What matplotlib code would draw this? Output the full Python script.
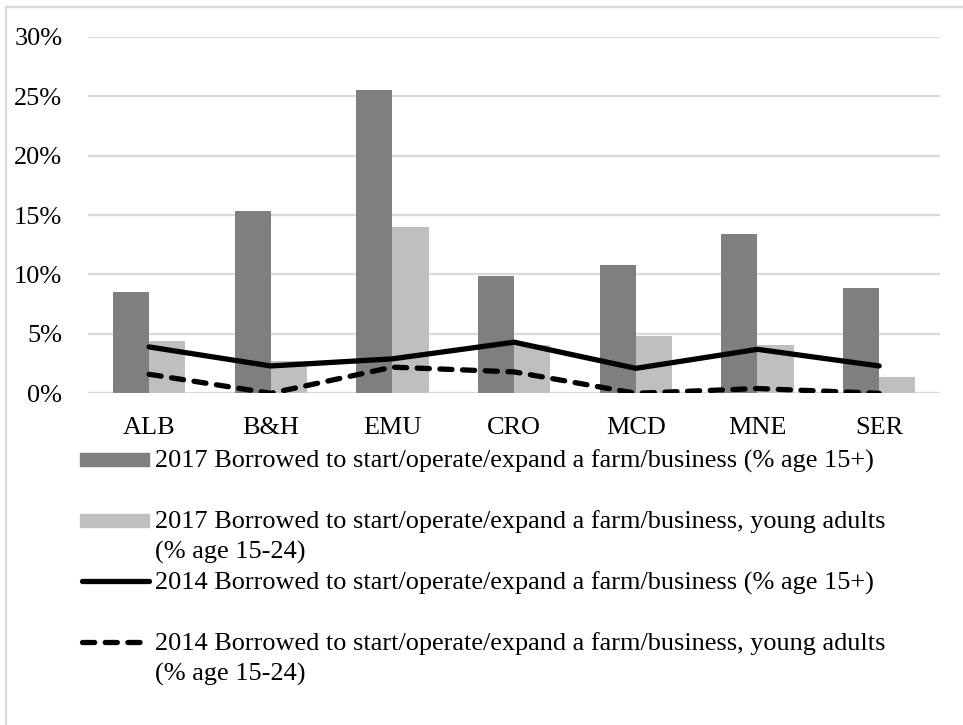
import matplotlib
matplotlib.use("Agg")
import matplotlib.pyplot as plt
import numpy as np
from matplotlib.lines import Line2D
from matplotlib.patches import Rectangle
from matplotlib.ticker import FuncFormatter

plt.rcParams["font.family"] = ["Liberation Serif", "DejaVu Serif"]

countries = ["ALB", "B&H", "EMU", "CRO", "MCD", "MNE", "SER"]
borrowed_2017_all = [8.5, 15.3, 25.5, 9.9, 10.8, 13.4, 8.9]
borrowed_2017_young = [4.4, 2.7, 14.0, 4.1, 4.8, 4.1, 1.35]
borrowed_2014_all = [3.9, 2.3, 2.9, 4.3, 2.1, 3.7, 2.3]
borrowed_2014_young = [1.6, 0.0, 2.2, 1.8, 0.0, 0.4, 0.0]
yticks = [0, 5, 10, 15, 20, 25, 30]

legend_labels = [
    ["2017 Borrowed to start/operate/expand a farm/business (% age 15+)"],
    ["2017 Borrowed to start/operate/expand a farm/business, young adults",
     "(% age 15-24)"],
    ["2014 Borrowed to start/operate/expand a farm/business (% age 15+)"],
    ["2014 Borrowed to start/operate/expand a farm/business, young adults",
     "(% age 15-24)"],
]

W, H = 963, 725
fig = plt.figure(figsize=(W / 100, H / 100), dpi=100)


def fx(px):
    return px / W


def fy(py):
    return 1 - py / H


ax = fig.add_axes([fx(88.3), fy(393.3), fx(940) - fx(88.3), fy(36.7) - fy(393.3)])

dark = "#7f7f7f"
light = "#bfbfbf"
grid = "#d9d9d9"
fs = 18.9

x = np.arange(len(countries))
bw = 0.297
ax.bar(x - bw / 2, borrowed_2017_all, width=bw, color=dark, zorder=2)
ax.bar(x + bw / 2, borrowed_2017_young, width=bw, color=light, zorder=2)
ax.plot(x, borrowed_2014_all, color="black", lw=3.8, solid_capstyle="round",
        solid_joinstyle="round", zorder=3)
ax.plot(x, borrowed_2014_young, color="black", lw=3.8, dashes=(2.3, 2.0),
        dash_capstyle="round", dash_joinstyle="round", zorder=3)

ax.set_xlim(-0.5, len(countries) - 0.5)
ax.set_ylim(0, 30)
ax.set_yticks(yticks)
ax.yaxis.set_major_formatter(FuncFormatter(lambda v, p: f"{v:.0f}%"))
ax.set_xticks(x)
ax.set_xticklabels(countries)
ax.tick_params(axis="both", length=0, labelsize=fs, colors="black")
ax.tick_params(axis="y", pad=18.7)
ax.tick_params(axis="x", pad=17.3)
ax.grid(axis="y", color=grid, lw=1.6, zorder=0)
ax.set_axisbelow(True)
for s in ["top", "right", "left", "bottom"]:
    ax.spines[s].set_visible(False)

# chart-area border
fig.add_artist(Line2D([fx(6), 1.0], [fy(7), fy(7)], color=grid, lw=1.6))
fig.add_artist(Line2D([fx(6), fx(6)], [fy(7), 0.0], color=grid, lw=1.6))

# legend drawn in figure pixels
hx0, hx1, tx = 80, 149, 155
rows = [467.3, 528.3, 589.3, 650.0]
line_gap = 30.6
for i, (base, lines) in enumerate(zip(rows, legend_labels)):
    cy = base - 8
    if i == 0 or i == 1:
        col = dark if i == 0 else light
        fig.add_artist(Rectangle((fx(hx0), fy(cy + 6.5)), fx(hx1) - fx(hx0),
                                 fy(cy - 6.5) - fy(cy + 6.5), color=col))
    elif i == 2:
        fig.add_artist(Line2D([fx(hx0 + 2), fx(hx1)], [fy(cy), fy(cy)],
                              color="black", lw=3.8, solid_capstyle="round"))
    else:
        fig.add_artist(Line2D([fx(hx0 + 2), fx(hx1 - 6)], [fy(cy), fy(cy)],
                              color="black", lw=3.8, dashes=(2.3, 2.0),
                              dash_capstyle="round"))
    for j, t in enumerate(lines):
        fig.text(fx(tx), fy(base + j * line_gap), t, fontsize=fs,
                 va="baseline", ha="left", color="black")

fig.savefig("out.png", dpi=100)
